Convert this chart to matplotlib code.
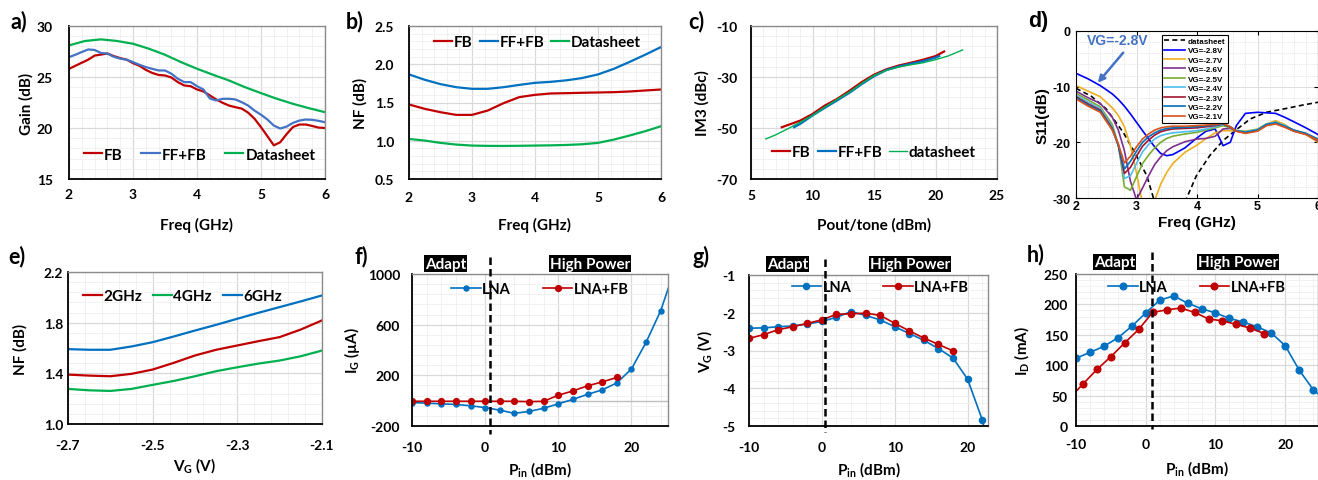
import numpy as np
import matplotlib
matplotlib.use('Agg')
import matplotlib.pyplot as plt
from matplotlib.ticker import AutoMinorLocator, FormatStrFormatter

W, H = 1318, 481

# ---------------- a) Gain ----------------
freq_a = [2.0, 2.1, 2.2, 2.3, 2.4, 2.5, 2.6, 2.7, 2.8, 2.9, 3.0, 3.1, 3.2, 3.3, 3.4,
          3.5, 3.6, 3.7, 3.8, 3.9, 4.0, 4.1, 4.2, 4.3, 4.4, 4.5, 4.6, 4.7, 4.8, 4.9,
          5.0, 5.1, 5.2, 5.3, 5.4, 5.5, 5.6, 5.7, 5.8, 5.9, 6.0]
gain_fb = [25.8, 26.1, 26.4, 26.7, 27.1, 27.2, 27.3, 27.05, 26.85, 26.7, 26.36, 26.1,
           25.7, 25.4, 25.2, 25.15, 24.95, 24.5, 24.17, 24.1, 23.78, 23.58, 23.2, 22.8,
           22.47, 22.2, 22.04, 21.9, 21.5, 20.9, 20.08, 19.2, 18.3, 18.6, 19.4, 20.1,
           20.34, 20.34, 20.2, 20.04, 20.0]
gain_fffb = [26.95, 27.18, 27.45, 27.7, 27.65, 27.35, 27.3, 26.98, 26.8, 26.7, 26.46,
             26.2, 25.97, 25.8, 25.64, 25.64, 25.32, 24.83, 24.5, 24.5, 24.1, 23.78,
             22.9, 22.7, 22.86, 22.86, 22.8, 22.53, 22.2, 21.7, 21.3, 20.83, 20.24,
             19.95, 20.14, 20.5, 20.73, 20.83, 20.8, 20.7, 20.57]
freq_q = [2.0, 2.25, 2.5, 2.75, 3.0, 3.25, 3.5, 3.75, 4.0, 4.25, 4.5, 4.75, 5.0, 5.25,
          5.5, 5.75, 6.0]
gain_ds = [28.1, 28.53, 28.69, 28.53, 28.26, 27.77, 27.18, 26.46, 25.81, 25.22, 24.66,
           24.0, 23.42, 22.86, 22.37, 21.94, 21.55]

# ---------------- b) NF vs freq ----------------
nf_fb = [1.474, 1.417, 1.373, 1.338, 1.338, 1.395, 1.491, 1.57, 1.60, 1.618, 1.622,
         1.627, 1.631, 1.635, 1.644, 1.657, 1.67]
nf_fffb = [1.867, 1.797, 1.74, 1.70, 1.679, 1.679, 1.70, 1.73, 1.757, 1.77, 1.79, 1.82,
           1.867, 1.94, 2.03, 2.125, 2.225]
nf_ds = [1.024, 1.002, 0.972, 0.95, 0.937, 0.933, 0.932, 0.934, 0.937, 0.94, 0.945,
         0.954, 0.972, 1.015, 1.068, 1.125, 1.19]

# ---------------- c) IM3 ----------------
pout_fb = [7.5, 9, 10, 11, 12, 13, 14, 15, 16, 17, 18, 19, 20, 20.7]
im3_fb = [-49.7, -47.1, -44.5, -41.2, -38.6, -35.4, -32.0, -29.1, -27.0, -25.5, -24.4,
          -23.2, -21.8, -20.0]
pout_fffb = [8.5, 9, 10, 11, 12, 13, 14, 15, 16, 17, 18, 19, 20, 20.3]
im3_fffb = [-49.7, -48.4, -45.1, -42.1, -39.2, -36.2, -32.8, -29.7, -27.3, -25.9, -24.8,
            -23.8, -22.4, -21.8]
pout_ds = [6.2, 7, 8, 9, 10, 11, 12, 13, 14, 15, 16, 17, 18, 19, 20, 21, 22.2]
im3_ds = [-54.3, -52.7, -50.3, -47.7, -45.1, -41.8, -38.8, -35.9, -32.5, -29.4, -27.4,
          -26.1, -25.2, -24.4, -23.2, -21.8, -19.4]

# ---------------- d) S11 ----------------
freq_ds_d = [2.0, 2.25, 2.5, 2.78, 3.0, 3.17, 3.28, 3.55, 3.83, 3.99, 4.21, 4.43, 4.63,
             4.88, 5.15, 5.48, 5.75, 6.0]
s11_ds = [-10.3, -11.7, -14.0, -18.2, -22.4, -26.0, -30.0, -40.0, -30.0, -26.0, -22.4,
          -19.7, -17.9, -15.8, -14.6, -13.9, -13.3, -12.8]
freq_d = [2.0, 2.2, 2.4, 2.6, 2.7, 2.8, 2.9, 3.0, 3.1, 3.2, 3.3, 3.4, 3.5, 3.6, 3.8, 4.0,
          4.15, 4.3, 4.43, 4.55, 4.65, 4.8, 5.0, 5.15, 5.3, 5.45, 5.6, 5.8, 6.0]
vg_labels = ['VG=-2.8V', 'VG=-2.7V', 'VG=-2.6V', 'VG=-2.5V', 'VG=-2.4V', 'VG=-2.3V',
             'VG=-2.2V', 'VG=-2.1V']
s11_vg = [
    [-7.6, -8.6, -9.8, -11.3, -12.3, -13.5, -14.9, -16.4, -17.9, -19.4, -20.8, -22.0,
     -22.4, -22.2, -21.0, -19.2, -18.0, -17.6, -20.6, -20.0, -17.0, -14.8, -14.6, -14.7,
     -14.8, -15.5, -16.3, -17.4, -18.6],
    [-9.8, -10.8, -11.8, -13.8, -15.2, -17.2, -20.6, -25.5, -31.0, -33.0, -30.5, -27.5,
     -25.4, -23.8, -21.8, -20.5, -19.3, -18.3, -17.9, -17.9, -17.9, -18.0, -17.6, -16.7,
     -16.1, -16.8, -17.9, -18.6, -20.0],
    [-10.8, -12.0, -13.0, -15.5, -17.8, -21.5, -27.0, -30.3, -28.2, -26.0, -24.0, -22.6,
     -21.5, -20.8, -19.9, -19.4, -19.3, -18.9, -17.6, -17.5, -17.9, -18.2, -17.8, -16.8,
     -16.4, -17.1, -18.0, -18.5, -19.8],
    [-11.2, -12.4, -13.6, -16.8, -20.4, -28.0, -28.6, -26.2, -23.8, -22.3, -21.0, -20.0,
     -19.3, -18.9, -18.5, -18.2, -17.8, -17.4, -17.0, -17.4, -17.9, -18.1, -17.7, -16.7,
     -16.4, -17.0, -17.9, -18.4, -19.6],
    [-11.5, -12.8, -13.9, -17.2, -20.6, -26.5, -26.0, -23.8, -21.7, -20.4, -19.4, -18.8,
     -18.5, -18.3, -18.1, -17.9, -17.6, -17.2, -16.8, -17.3, -17.9, -18.1, -17.7, -16.7,
     -16.4, -17.0, -17.8, -18.4, -19.5],
    [-11.8, -13.1, -14.2, -17.5, -20.6, -25.6, -24.5, -22.5, -20.7, -19.6, -18.7, -18.1,
     -17.8, -17.6, -17.5, -17.4, -17.2, -17.0, -16.7, -17.3, -18.0, -18.3, -17.9, -16.9,
     -16.6, -17.2, -17.9, -18.5, -19.5],
    [-12.0, -13.3, -14.4, -17.7, -20.5, -24.8, -23.4, -21.6, -20.0, -19.0, -18.3, -17.8,
     -17.5, -17.4, -17.3, -17.2, -17.0, -16.9, -16.7, -17.2, -17.9, -18.2, -17.8, -16.8,
     -16.5, -17.1, -17.8, -18.4, -19.4],
    [-12.2, -13.5, -14.6, -17.8, -20.3, -23.7, -22.5, -20.8, -19.4, -18.5, -17.8, -17.4,
     -17.2, -17.1, -17.1, -17.0, -16.9, -16.8, -16.6, -17.2, -18.0, -18.4, -18.0, -17.0,
     -16.7, -17.3, -18.0, -18.6, -19.6],
]
vg_colors = ['#0000FF', '#EDB120', '#7E2F8E', '#77AC30', '#4DBEEE', '#A2142F',
             '#0072BD', '#D95319']

# ---------------- e) NF vs VG ----------------
vg_e = [-2.7, -2.65, -2.6, -2.55, -2.5, -2.45, -2.4, -2.35, -2.3, -2.25, -2.2, -2.15, -2.1]
nf_2g = [1.390, 1.382, 1.377, 1.396, 1.430, 1.483, 1.541, 1.586, 1.620, 1.654, 1.686,
         1.746, 1.818]
nf_4g = [1.277, 1.266, 1.261, 1.277, 1.309, 1.340, 1.377, 1.417, 1.448, 1.477, 1.501,
         1.535, 1.580]
nf_6g = [1.591, 1.586, 1.586, 1.612, 1.646, 1.691, 1.738, 1.783, 1.831, 1.878, 1.923,
         1.968, 2.015]

# ---------------- f, g, h) vs Pin ----------------
pin_lna = [-10, -8, -6, -4, -2, 0, 2, 4, 6, 8, 10, 12, 14, 16, 18, 20, 22, 24, 26]
ig_lna = [-15, -20, -25, -30, -40, -55, -75, -100, -85, -60, -25, 10, 50, 85, 140, 250,
          460, 710, 1050]
pin_fb = [-10, -8, -6, -4, -2, 0, 2, 4, 6, 8, 10, 12, 14, 16, 18]
ig_fb = [-5, -5, -5, -5, -5, -5, -5, -5, -8, -5, 43, 77, 117, 148, 183]
vg_lna = [-2.41, -2.40, -2.37, -2.35, -2.30, -2.23, -2.12, -1.97, -2.07, -2.19, -2.37,
          -2.55, -2.73, -2.95, -3.20, -3.76, -4.83, -6.5, -8.0]
vg_fb = [-2.68, -2.58, -2.45, -2.37, -2.28, -2.19, -2.04, -2.03, -2.01, -2.07, -2.28,
         -2.48, -2.67, -2.84, -3.01]
id_lna = [111.5, 121, 131, 145, 164, 186, 207, 214, 202, 193, 186, 177, 171, 163, 153,
          132, 92, 60, 40]
pin_fb_h = [-11, -9, -7, -5, -3, -1, 1, 3, 5, 7, 9, 11, 13, 15, 17]
id_fb = [45, 69, 93, 114, 137, 159, 187, 191, 194, 187, 176, 173, 167, 161, 152]

RED = '#C00000'
BLUE = '#0070C0'
GREEN = '#00B050'


def add_axes_px(fig, rect):
    l, t, r, b = rect
    return fig.add_axes([l / W, 1 - b / H, (r - l) / W, (b - t) / H])


def excel_axes(fig, rect, xlim, ylim, xticks, yticks, yfmt, ypad, xpad):
    ax = add_axes_px(fig, rect)
    ax.set_xlim(xlim)
    ax.set_ylim(ylim)
    ax.set_xticks(xticks)
    ax.set_yticks(yticks)
    ax.yaxis.set_major_formatter(FormatStrFormatter(yfmt))
    ax.xaxis.set_minor_locator(AutoMinorLocator(5))
    ax.yaxis.set_minor_locator(AutoMinorLocator(5))
    ax.grid(which='major', color='#D9D9D9', lw=0.9)
    ax.grid(which='minor', color='#EFEFEF', lw=0.6)
    ax.set_axisbelow(True)
    ax.tick_params(which='both', length=0, labelsize=10)
    ax.tick_params(axis='y', pad=ypad)
    ax.tick_params(axis='x', pad=xpad)
    for s in ['left', 'bottom']:
        ax.spines[s].set_color('black')
        ax.spines[s].set_linewidth(1.3)
    for s in ['top', 'right']:
        ax.spines[s].set_color('#8C8C8C')
        ax.spines[s].set_linewidth(1.0)
    return ax


def place_labels(ax, rect, xlabel, ylabel, ylab_x, xlab_y, size=11):
    l, t, r, b = rect
    ax.set_ylabel(ylabel, fontsize=size, va='center')
    ax.yaxis.set_label_coords((ylab_x - l) / (r - l), 0.5)
    ax.set_xlabel(xlabel, fontsize=size, va='center')
    ax.xaxis.set_label_coords(0.5, (b - xlab_y) / (b - t))


def panel_label(fig, txt, x, y, family=None):
    kw = {'family': family} if family else {}
    fig.text(x / W, 1 - y / H, txt, fontsize=15.5, fontweight='bold',
             ha='center', va='center', **kw)


def mode_boxes(fig, ax, rect, xline, y0, y1, adapt_xy, hp_xy):
    l, t, r, b = rect
    h = b - t
    ax.plot([xline, xline], [(b - y0) / h, (b - y1) / h],
            transform=ax.get_xaxis_transform(),
            color='black', lw=1.8, ls=(0, (3, 1.6)), clip_on=False, zorder=5)
    for txt, (x, y) in [('Adapt', adapt_xy), ('High Power', hp_xy)]:
        fig.text(x / W, 1 - y / H, txt, color='white', fontsize=11, fontweight='bold',
                 ha='center', va='center',
                 bbox=dict(boxstyle='square,pad=0.08', fc='black', ec='none'))


def main():
    plt.rcParams['font.family'] = ['Lato', 'DejaVu Sans']
    plt.rcParams['font.weight'] = 'bold'
    plt.rcParams['axes.labelweight'] = 'bold'
    plt.rcParams['axes.unicode_minus'] = False
    plt.rcParams['mathtext.fontset'] = 'custom'
    plt.rcParams['mathtext.rm'] = 'Lato:bold'
    plt.rcParams['mathtext.it'] = 'Lato:bold'
    plt.rcParams['mathtext.bf'] = 'Lato:bold'
    plt.rcParams['mathtext.default'] = 'regular'

    fig = plt.figure(figsize=(W / 100, H / 100), dpi=100)

    # a)
    ra = (69, 27, 325, 180)
    ax = excel_axes(fig, ra, (2, 6), (15, 30), [2, 3, 4, 5, 6], [15, 20, 25, 30],
                    '%d', 11.5, 6.5)
    ax.plot(freq_a, gain_fb, color=RED, lw=1.6, label='FB')
    ax.plot(freq_a, gain_fffb, color='#4472C4', lw=1.6, label='FF+FB')
    ax.plot(freq_q, gain_ds, color=GREEN, lw=1.6, label='Datasheet')
    ax.legend(loc='center', bbox_to_anchor=(0.51, 0.16), ncol=3, frameon=False,
              fontsize=11, handlelength=1.2, handletextpad=0.15, columnspacing=1.2)
    place_labels(ax, ra, 'Freq (GHz)', 'Gain (dB)', 26, 225)
    panel_label(fig, 'a)', 19, 22)

    # b)
    rb = (409, 27, 661, 180)
    ax = excel_axes(fig, rb, (2, 6), (0.5, 2.5), [2, 3, 4, 5, 6],
                    [0.5, 1.0, 1.5, 2.0, 2.5], '%.1f', 10.8, 8.8)
    ax.plot(freq_q, nf_fb, color=RED, lw=1.6, label='FB')
    ax.plot(freq_q, nf_fffb, color=BLUE, lw=1.6, label='FF+FB')
    ax.plot(freq_q, nf_ds, color=GREEN, lw=1.6, label='Datasheet')
    ax.legend(loc='center', bbox_to_anchor=(0.51, 0.895), ncol=3, frameon=False,
              fontsize=11, handlelength=1.2, handletextpad=0.1, columnspacing=0.45)
    place_labels(ax, rb, 'Freq (GHz)', 'NF (dB)', 360, 225)
    panel_label(fig, 'b)', 355, 22)

    # c)
    rc = (751, 27, 997, 180)
    ax = excel_axes(fig, rc, (5, 25), (-70, -10), [5, 10, 15, 20, 25],
                    [-70, -50, -30, -10], '%d', 10, 7.4)
    ax.plot(pout_fb, im3_fb, color=RED, lw=1.6, label='FB')
    ax.plot(pout_fffb, im3_fffb, color=BLUE, lw=1.6, label='FF+FB')
    ax.plot(pout_ds, im3_ds, color=GREEN, lw=1.0, label='datasheet')
    ax.legend(loc='center', bbox_to_anchor=(0.5, 0.176), ncol=3, frameon=False,
              fontsize=11, handlelength=1.2, handletextpad=0.1, columnspacing=0.45)
    place_labels(ax, rc, 'Pout/tone (dBm)', 'IM3 (dBc)', 702, 225)
    panel_label(fig, 'c)', 696, 22)

    # d) MATLAB style
    rd = (1076, 32, 1318, 199)
    ax = add_axes_px(fig, rd)
    ax.plot(freq_ds_d, s11_ds, color='black', lw=1.2, ls=(0, (3, 2)), label='datasheet')
    for vals, lab, col in zip(s11_vg, vg_labels, vg_colors):
        ax.plot(freq_d, vals, color=col, lw=1.2, label=lab)
    ax.set_xlim(2, 6)
    ax.set_ylim(-30, 0)
    ax.set_xticks([2, 3, 4, 5, 6])
    ax.set_yticks([-30, -20, -10, 0])
    ax.xaxis.set_minor_locator(AutoMinorLocator(5))
    ax.yaxis.set_minor_locator(AutoMinorLocator(5))
    ax.grid(which='major', color='#DCDCDC', lw=0.7)
    ax.grid(which='minor', color='#D0D0D0', lw=0.5, ls=':')
    ax.set_axisbelow(True)
    ax.tick_params(which='both', direction='in', top=True, right=True, labelsize=9,
                   labelfontfamily='Liberation Sans')
    ax.tick_params(which='major', length=3)
    ax.tick_params(which='minor', length=0)
    ax.tick_params(axis='y', pad=4)
    ax.tick_params(axis='x', pad=1.5)
    for s in ax.spines.values():
        s.set_color('black')
        s.set_linewidth(0.8)
    leg = ax.legend(loc='upper left', bbox_to_anchor=(0.339, 1.0),
                    prop={'family': 'Liberation Sans', 'weight': 'bold', 'size': 5.8},
                    handlelength=2.6, handletextpad=0.3, labelspacing=0.22,
                    borderpad=0.3, fancybox=False, framealpha=1, edgecolor='black')
    leg.get_frame().set_linewidth(0.8)
    ax.text(2.69, -1.7, 'VG=-2.8V', color='#4472C4', fontsize=10, fontweight='bold',
            family='Liberation Sans', ha='center', va='center')
    ax.annotate('', xy=(2.36, -9.3), xytext=(2.78, -3.9),
                arrowprops=dict(arrowstyle='-|>', color='#4472C4', lw=1.8,
                                mutation_scale=10, shrinkA=0, shrinkB=0))
    l, t, r, b = rd
    ax.set_ylabel('S11(dB)', fontsize=11, family='Liberation Sans', va='center')
    ax.yaxis.set_label_coords((1043 - l) / (r - l), 0.5)
    ax.set_xlabel('Freq (GHz)', fontsize=11, family='Liberation Sans', va='center')
    ax.xaxis.set_label_coords(0.5, (b - 223) / (b - t))
    panel_label(fig, 'd)', 1038, 22, family='Liberation Sans')

    # e)
    re_ = (68, 273, 322, 425)
    ax = excel_axes(fig, re_, (-2.7, -2.1), (1.0, 2.2), [-2.7, -2.5, -2.3, -2.1],
                    [1.0, 1.4, 1.8, 2.2], '%.1f', 3.6, 11)
    ax.xaxis.set_major_formatter(FormatStrFormatter('%.1f'))
    ax.plot(vg_e, nf_2g, color=RED, lw=1.6, label='2GHz')
    ax.plot(vg_e, nf_4g, color=GREEN, lw=1.6, label='4GHz')
    ax.plot(vg_e, nf_6g, color=BLUE, lw=1.6, label='6GHz')
    ax.legend(loc='center', bbox_to_anchor=(0.45, 0.84), ncol=3, frameon=False,
              fontsize=11, handlelength=1.25, handletextpad=0.1, columnspacing=0.7)
    place_labels(ax, re_, 'V$_G$ (V)', 'NF (dB)', 20, 466)
    panel_label(fig, 'e)', 17, 257)

    xt = [-10, 0, 10, 20]

    # f)
    rf = (412, 275, 668, 427)
    ax = excel_axes(fig, rf, (-10, 25), (-200, 1000), xt, [-200, 200, 600, 1000],
                    '%d', 8.6, 11)
    ax.axhline(0, color='#BFBFBF', lw=1.0, zorder=1)
    ax.plot(pin_lna, ig_lna, color=BLUE, lw=1.2, marker='o', ms=3.6, label='LNA')
    ax.plot(pin_fb, ig_fb, color=RED, lw=1.2, marker='o', ms=4.2, label='LNA+FB')
    ax.legend(loc='center', bbox_to_anchor=(0.5, 0.9), ncol=2, frameon=False,
              fontsize=10.5, handlelength=2.0, handletextpad=0.1, columnspacing=2.2)
    place_labels(ax, rf, 'P$_{in}$ (dBm)', 'I$_G$ (µA)', 352, 470)
    mode_boxes(fig, ax, rf, 0.6, 258, 435, (445.5, 264.5), (590, 264.5))
    panel_label(fig, 'f)', 361, 257)

    # g)
    rg = (749, 276, 988, 427)
    ax = excel_axes(fig, rg, (-10, 22.8), (-5, -1), xt, [-5, -4, -3, -2, -1],
                    '%d', 10, 11)
    ax.plot(pin_lna, vg_lna, color=BLUE, lw=1.2, marker='o', ms=4.4, label='LNA')
    ax.plot(pin_fb, vg_fb, color=RED, lw=1.2, marker='o', ms=4.4, label='LNA+FB')
    ax.legend(loc='center', bbox_to_anchor=(0.55, 0.92), ncol=2, frameon=False,
              fontsize=10.5, handlelength=2.0, handletextpad=0.1, columnspacing=2.2)
    place_labels(ax, rg, 'P$_{in}$ (dBm)', 'V$_G$ (V)', 705, 470)
    mode_boxes(fig, ax, rg, 0.4, 260, 433, (787.5, 265), (910, 265))
    panel_label(fig, 'g)', 701, 257)

    # h)
    rh = (1076, 275, 1318, 427)
    ax = excel_axes(fig, rh, (-10, 24.7), (0, 250), xt, [0, 50, 100, 150, 200, 250],
                    '%d', 5.8, 8.8)
    ax.plot(pin_lna, id_lna, color=BLUE, lw=1.2, marker='o', ms=4.8, label='LNA')
    ax.plot(pin_fb_h, id_fb, color=RED, lw=1.2, marker='o', ms=4.8, label='LNA+FB')
    ax.legend(loc='center', bbox_to_anchor=(0.5, 0.915), ncol=2, frameon=False,
              fontsize=10.5, handlelength=2.0, handletextpad=0.1, columnspacing=2.2)
    place_labels(ax, rh, 'P$_{in}$ (dBm)', 'I$_D$ (mA)', 1022, 469)
    mode_boxes(fig, ax, rh, 0.9, 253, 430, (1114.5, 263), (1238, 263))
    panel_label(fig, 'h)', 1036, 255)

    fig.savefig('out.png', dpi=100)


if __name__ == "__main__":
    main()
